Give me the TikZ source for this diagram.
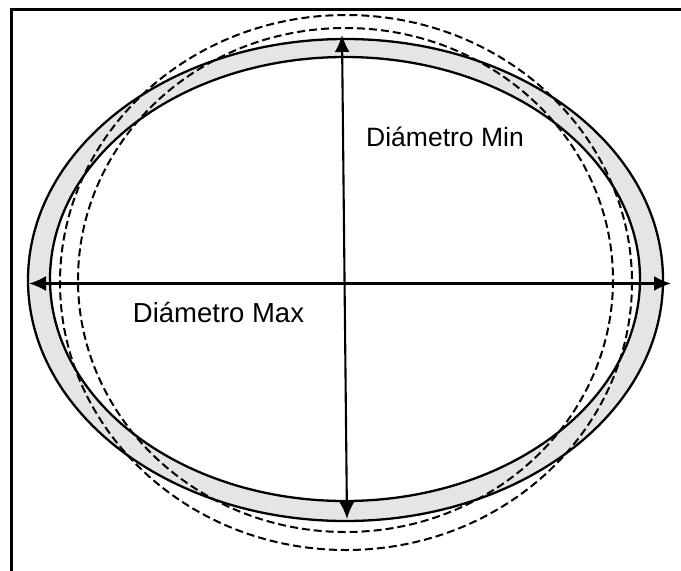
\documentclass[tikz,border=0pt]{standalone}
\usepackage{fontspec}
\setmainfont{Liberation Sans}
\usetikzlibrary{arrows.meta}

\tikzset{
  band/.style={fill=black!10, even odd rule},
  rim/.style={draw, line width=2.3pt},
  round/.style={draw, line width=2pt, dash pattern=on 8pt off 4pt},
  diam/.style={{Latex[length=17pt,width=15pt]}-{Latex[length=17pt,width=15pt]}, line width=2.1pt},
  lbl/.style={inner sep=0pt},
}

\begin{document}
\begin{tikzpicture}[x=1pt,y=-1pt]
\useasboundingbox (0,0) rectangle (681,571);

% frame
\draw[line width=2.8pt] (11.5,571) -- (11.5,9.3) -- (681,9.3);

% band between the two solid ellipses
\path[band] (345.5,280) ellipse [x radius=317.5, y radius=241]
            (345,279) ellipse [x radius=295, y radius=222];

% dashed rounds
\draw[round] (346,282.5) ellipse [x radius=286, y radius=267.5];
\draw[round] (345.5,280) ellipse [x radius=267.5, y radius=252];

% solid ellipses
\draw[rim] (345.5,280) ellipse [x radius=317.5, y radius=241];
\draw[rim] (345,279) ellipse [x radius=295, y radius=222];

% diameters
\coordinate (L) at (29,283.5);
\coordinate (R) at (671,283.5);
\coordinate (T) at (342,35);
\coordinate (B) at (347,519);

\draw[diam] (L) -- (R);
\draw[diam] (T) -- (B);

\node[lbl] (dmin) at (445,137) {\fontsize{26.5}{30}\selectfont Diámetro Min};
\node[lbl] (dmax) at (218.5,313) {\fontsize{27.5}{32}\selectfont Diámetro Max};
\end{tikzpicture}
\end{document}
